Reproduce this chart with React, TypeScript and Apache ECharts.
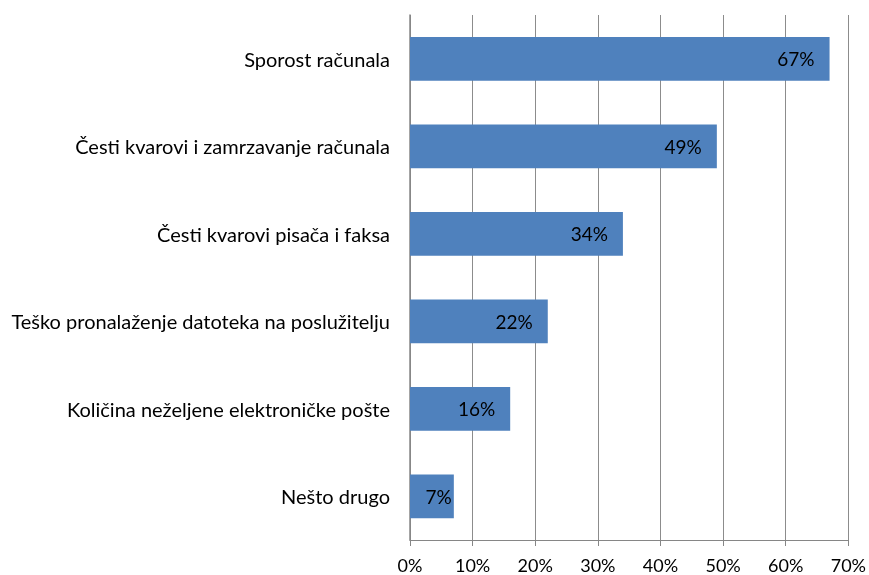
import React, { useEffect, useRef } from "react";
import * as echarts from "echarts";

const categories = [
  "Sporost računala",
  "Česti kvarovi i zamrzavanje računala",
  "Česti kvarovi pisača i faksa",
  "Teško pronalaženje datoteka na poslužitelju",
  "Količina neželjene elektroničke pošte",
  "Nešto drugo",
];
const values = [67, 49, 34, 22, 16, 7];
const xTicks = [0, 10, 20, 30, 40, 50, 60, 70];

const FONT = "Lato";

export default function App() {
  const ref = useRef<HTMLDivElement>(null);
  useEffect(() => {
    if (!ref.current) return;
    const chart = echarts.init(ref.current, null, { renderer: "svg" });
    const cats = [...categories].reverse();
    const vals = [...values].reverse();
    chart.setOption({
      animation: false,
      grid: { left: 410, right: 20, top: 15, bottom: 35, containLabel: false },
      xAxis: {
        type: "value",
        min: xTicks[0],
        max: xTicks[xTicks.length - 1],
        interval: 10,
        axisLine: { show: true, lineStyle: { color: "#868686", width: 1 } },
        axisTick: { show: true, length: 6, lineStyle: { color: "#868686" } },
        splitLine: { show: true, lineStyle: { color: "#8c8c8c", width: 1 } },
        axisLabel: {
          formatter: (v: number) => v + "%",
          color: "#000",
          fontFamily: FONT,
          fontSize: 18,
          lineHeight: 18,
          margin: 16,
        },
      },
      yAxis: {
        type: "category",
        data: cats,
        axisLine: { show: true, lineStyle: { color: "#868686", width: 1.5 } },
        axisTick: { show: false },
        axisLabel: {
          color: "#000",
          fontFamily: FONT,
          fontSize: 20,
          margin: 20,
        },
      },
      series: [
        {
          type: "bar",
          data: vals.map((v) => ({
            value: v,
            label: { distance: v < 10 ? 2 : 15 },
          })),
          barCategoryGap: "50%",
          itemStyle: { color: "#4F81BD" },
          label: {
            show: true,
            position: "insideRight",
            formatter: (p: any) => p.value + "%",
            color: "#000",
            fontFamily: FONT,
            fontSize: 19,
          },
        },
      ],
    });
    return () => chart.dispose();
  }, []);
  return (
    <div
      ref={ref}
      style={{ position: "fixed", left: 0, top: 0, width: 869, height: 575 }}
    />
  );
}
